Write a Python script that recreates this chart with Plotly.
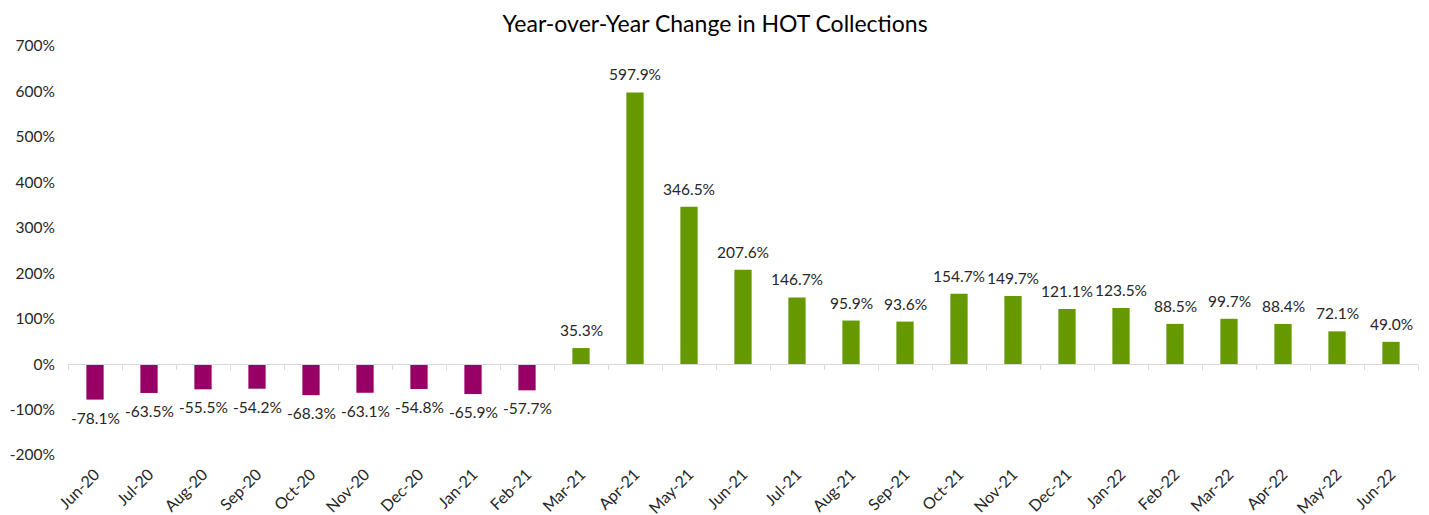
import plotly.graph_objects as go

# Data
months = ["Jun-20", "Jul-20", "Aug-20", "Sep-20", "Oct-20", "Nov-20", "Dec-20",
          "Jan-21", "Feb-21", "Mar-21", "Apr-21", "May-21", "Jun-21", "Jul-21",
          "Aug-21", "Sep-21", "Oct-21", "Nov-21", "Dec-21", "Jan-22", "Feb-22",
          "Mar-22", "Apr-22", "May-22", "Jun-22"]
yoy_change = [-78.1, -63.5, -55.5, -54.2, -68.3, -63.1, -54.8, -65.9, -57.7,
              35.3, 597.9, 346.5, 207.6, 146.7, 95.9, 93.6, 154.7, 149.7,
              121.1, 123.5, 88.5, 99.7, 88.4, 72.1, 49.0]
y_ticks = [-200, -100, 0, 100, 200, 300, 400, 500, 600, 700]

NEG = "#990066"
POS = "#669900"
FONT = "Lato, 'Open Sans', sans-serif"

colors = [NEG if v < 0 else POS for v in yoy_change]
labels = [f"{v:.1f}%" for v in yoy_change]

fig = go.Figure()
fig.add_trace(go.Bar(
    x=months, y=yoy_change,
    marker=dict(color=colors, line=dict(width=0)),
    width=0.32,
    hoverinfo="x+y",
))
# invisible trace to carry the axis line at zero with boundary ticks
fig.add_trace(go.Scatter(x=months, y=[0] * len(months), xaxis="x2",
                         mode="markers", marker=dict(opacity=0),
                         hoverinfo="skip", showlegend=False))

# value labels, a little away from the bar ends (Excel style)
for m, v, t in zip(months, yoy_change, labels):
    fig.add_annotation(
        x=m, y=v, text=t, showarrow=False,
        yanchor="bottom" if v >= 0 else "top",
        yshift=7 if v >= 0 else -7,
        font=dict(size=15.5, color="#262626", family=FONT),
    )

zero_pos = (0 - y_ticks[0]) / (y_ticks[-1] - y_ticks[0])

fig.update_layout(
    title=dict(text="Year-over-Year Change in HOT Collections", x=0.4948, xanchor="center",
               y=0.969, yanchor="middle",
               font=dict(size=23, color="#000000", family=FONT)),
    width=1429, height=515,
    margin=dict(l=60, r=19, t=38, b=68),
    plot_bgcolor="white", paper_bgcolor="white",
    showlegend=False,
    xaxis=dict(
        tickangle=-45, showgrid=False, showline=False, ticks="",
        tickfont=dict(size=16, color="#262626", family=FONT),
        ticklabelstandoff=6,
        range=[-0.5, len(months) - 0.5], automargin=False,
    ),
    xaxis2=dict(
        overlaying="x", anchor="free", position=zero_pos, matches="x",
        showticklabels=False, showgrid=False, automargin=False,
        showline=True, linecolor="#d9d9d9", linewidth=1.3,
        ticks="outside", ticklen=5, tickcolor="#d9d9d9", tickson="boundaries",
    ),
    yaxis=dict(
        range=[y_ticks[0], y_ticks[-1]], tickvals=y_ticks,
        ticktext=[f"{t}%" for t in y_ticks],
        showgrid=False, zeroline=False, showline=False, automargin=False,
        tickfont=dict(size=15.5, color="#262626", family=FONT),
        ticklabelstandoff=12,
    ),
)

fig.write_html("out.html")
